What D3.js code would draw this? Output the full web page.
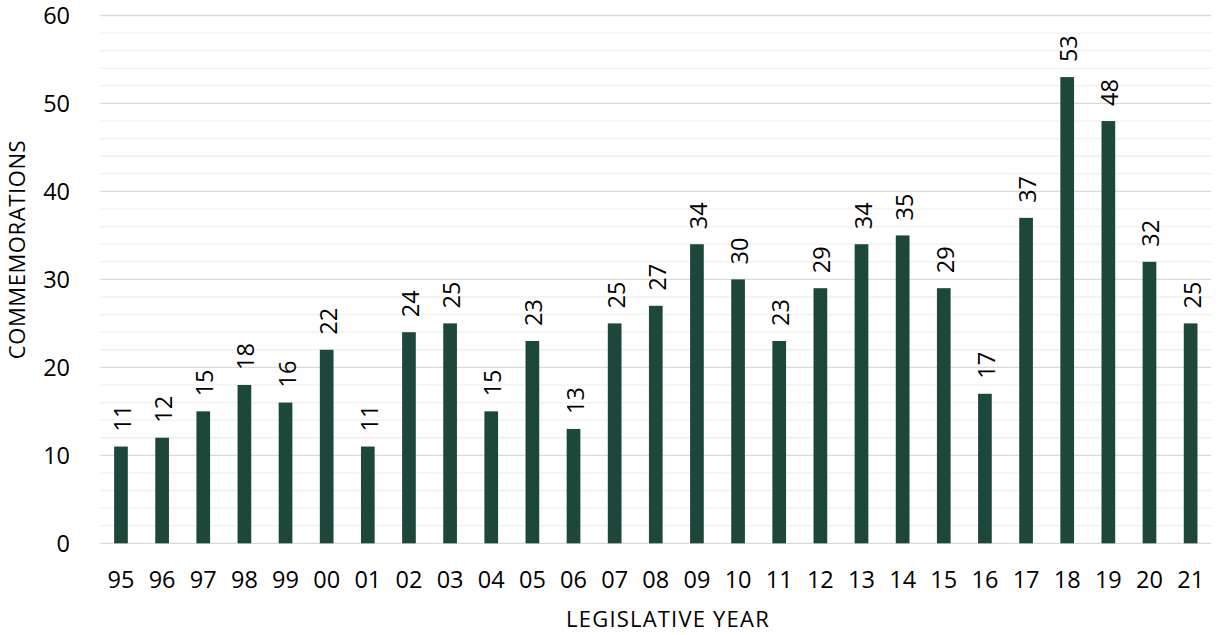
<!DOCTYPE html>
<html>
<head>
<meta charset="utf-8">
<script src="https://cdn.jsdelivr.net/npm/d3@7"></script>
<style>
html,body{margin:0;padding:0;background:#fff;}
svg{display:block;font-family:"Open Sans", sans-serif;}
</style>
</head>
<body>
<svg id="chart" width="1219" height="635"></svg>
<script>
const years = ["95","96","97","98","99","00","01","02","03","04","05","06","07","08","09","10","11","12","13","14","15","16","17","18","19","20","21"];
const commemorations = [11,12,15,18,16,22,11,24,25,15,23,13,25,27,34,30,23,29,34,35,29,17,37,53,48,32,25];
const yTicks = [0,10,20,30,40,50,60];
const yMinorTicks = [2,4,6,8,12,14,16,18,22,24,26,28,32,34,36,38,42,44,46,48,52,54,56,58];
const xTitle = "LEGISLATIVE YEAR";
const yTitle = "COMMEMORATIONS";

const svg = d3.select("#chart");
const mLeft = 100.4, mRight = 1211.2, mTop = 15.5, mBottom = 543.3;
const FONT = "'Open Sans', sans-serif";
const NUM = 23.5;

const x = d3.scaleBand().domain(years).range([mLeft, mRight]).paddingInner(0.667).paddingOuter(0.3335);
const y = d3.scaleLinear().domain([0, 60]).range([mBottom, mTop]);

// minor gridlines
svg.append("g").selectAll("line").data(yMinorTicks).join("line")
  .attr("x1", mLeft).attr("x2", mRight)
  .attr("y1", d => y(d)).attr("y2", d => y(d))
  .attr("stroke", "#f0f0f0").attr("stroke-width", 1.3);

// major gridlines
svg.append("g").selectAll("line").data(yTicks).join("line")
  .attr("x1", mLeft).attr("x2", mRight)
  .attr("y1", d => y(d)).attr("y2", d => y(d))
  .attr("stroke", "#d9d9d9").attr("stroke-width", 1.3);

// y axis labels
const yAxis = d3.axisLeft(y).tickValues(yTicks).tickSize(0).tickPadding(0).tickFormat(d3.format("d"));
const yg = svg.append("g").attr("transform", `translate(70,0)`).call(yAxis);
yg.select(".domain").remove();
yg.selectAll("text").attr("font-size", NUM).attr("font-family", FONT).attr("fill", "#000").attr("x", 0).attr("dy", "0.36em");

// x axis labels
const xAxis = d3.axisBottom(x).tickSize(0).tickPadding(0);
const xg = svg.append("g").attr("transform", `translate(0,${mBottom})`).call(xAxis);
xg.select(".domain").remove();
xg.selectAll("text").attr("font-size", NUM).attr("font-family", FONT).attr("fill", "#000").attr("y", 44.5).attr("dy", 0);

// bars
const data = years.map((yr, i) => ({yr, v: commemorations[i]}));
svg.append("g").selectAll("rect").data(data).join("rect")
  .attr("x", d => x(d.yr)).attr("width", x.bandwidth())
  .attr("y", d => y(d.v)).attr("height", d => y(0) - y(d.v))
  .attr("fill", "#1e473b");

// value labels
svg.append("g").selectAll("text").data(data).join("text")
  .attr("transform", d => `translate(${x(d.yr) + x.bandwidth()/2},${y(d.v) - 15}) rotate(-90)`)
  .attr("y", 10)
  .attr("text-anchor", "start")
  .attr("font-size", NUM).attr("fill", "#000")
  .text(d => d.v);

// axis titles
svg.append("text").attr("x", 668).attr("y", 627).attr("text-anchor", "middle")
  .attr("font-size", 22).attr("letter-spacing", 1.2).attr("fill", "#000").text(xTitle);
svg.append("text").attr("transform", "translate(25,249.5) rotate(-90)").attr("text-anchor", "middle")
  .attr("font-size", 22).attr("letter-spacing", 0.6).attr("fill", "#000").text(yTitle);
</script>
</body>
</html>
